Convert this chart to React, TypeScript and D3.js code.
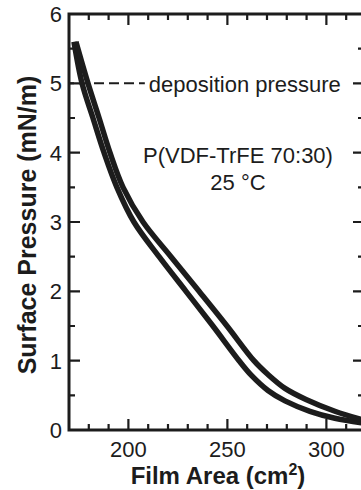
import * as d3 from "d3";

// isotherm traces: [film area (cm²), surface pressure (mN/m)]
const compressionTrace: [number, number][] = [
  [172.5, 5.6], [176.6, 5.0], [182.1, 4.5], [187.7, 4.0], [194.2, 3.5],
  [202.8, 3.0], [215.5, 2.5], [229.1, 2.0], [242.7, 1.5], [255.9, 1.0],
  [262.4, 0.78], [270.5, 0.57], [279.1, 0.42], [291.7, 0.27], [304.3, 0.17],
  [319, 0.1],
];
const expansionTrace: [number, number][] = [
  [173.5, 5.6], [179.6, 5.0], [185.2, 4.5], [190.7, 4.0], [197.3, 3.5],
  [207.4, 3.0], [221.5, 2.5], [235.7, 2.0], [249.8, 1.5], [263.4, 1.0],
  [270.5, 0.8], [279.1, 0.6], [289.7, 0.44], [304.3, 0.27], [319, 0.14],
];
const xMajorTicks = [200, 250, 300];
const xMinorTicks = [180, 190, 210, 220, 230, 240, 260, 270, 280, 290, 310];
const yMajorTicks = [0, 1, 2, 3, 4, 5, 6];
const yMinorTicks = [0.5, 1.5, 2.5, 3.5, 4.5, 5.5];
const depositionPressure = 5;
const depositionLineEnd = 208.3;
const sampleLabel = "P(VDF-TrFE 70:30)";
const tempLabel = "25 °C";

export default function App() {
  const width = 361;
  const height = 490;
  const x = d3.scaleLinear([170, 319], [69, 364]);
  const y = d3.scaleLinear([0, 6], [430, 14]);
  const ink = "#1c1c1c";
  const font = "'Liberation Sans', Arial, Helvetica, sans-serif";
  const major = 11;
  const minor = 6;

  const line = d3
    .line<[number, number]>()
    .x((d) => x(d[0]))
    .y((d) => y(d[1]))
    .curve(d3.curveCatmullRom.alpha(0.5));

  const [left, right] = x.range();
  const [bottom, top] = y.range();

  // inward ticks on all four sides, one path
  const tickPath = [
    ...xMajorTicks.map((t) => `M${x(t)},${bottom}v${-major}M${x(t)},${top}v${major}`),
    ...xMinorTicks.map((t) => `M${x(t)},${bottom}v${-minor}M${x(t)},${top}v${minor}`),
    ...yMajorTicks.map((t) => `M${left},${y(t)}h${major}M${right},${y(t)}h${-major}`),
    ...yMinorTicks.map((t) => `M${left},${y(t)}h${minor}M${right},${y(t)}h${-minor}`),
  ].join("");

  return (
    <svg
      width={width}
      height={height}
      viewBox={`0 0 ${width} ${height}`}
      style={{ position: "absolute", left: 0, top: 0, background: "#fff" }}
      fontFamily={font}
    >
      <defs>
        <clipPath id="plot">
          <rect x={left} y={top} width={right - left} height={bottom - top} />
        </clipPath>
      </defs>

      {/* curves */}
      <g clipPath="url(#plot)" fill="none" stroke={ink} strokeWidth={5.5} strokeLinejoin="round">
        <path d={line(compressionTrace) ?? undefined} />
        <path d={line(expansionTrace) ?? undefined} />
      </g>

      {/* deposition pressure marker */}
      <line
        x1={left}
        x2={x(depositionLineEnd)}
        y1={y(depositionPressure)}
        y2={y(depositionPressure)}
        stroke={ink}
        strokeWidth={2}
        strokeDasharray="10 5"
        strokeDashoffset={5}
      />
      <text x={x(depositionLineEnd) + 4} y={y(depositionPressure) + 8.5} fontSize={22} fill={ink}>
        deposition pressure
      </text>
      <text x={238} y={163} fontSize={22} fill={ink} textAnchor="middle">
        {sampleLabel}
      </text>
      <text x={238} y={190} fontSize={22} fill={ink} textAnchor="middle">
        {tempLabel}
      </text>

      {/* frame and ticks */}
      <rect
        x={left}
        y={top}
        width={right - left}
        height={bottom - top}
        fill="none"
        stroke={ink}
        strokeWidth={3}
      />
      <path d={tickPath} fill="none" stroke={ink} strokeWidth={2.2} />

      {/* tick labels */}
      {xMajorTicks.map((t) => (
        <text key={`xl${t}`} x={x(t)} y={457} fontSize={22} textAnchor="middle" fill={ink}>
          {t}
        </text>
      ))}
      {yMajorTicks.map((t) => (
        <text key={`ylab${t}`} x={62} y={y(t) + 8} fontSize={22} textAnchor="end" fill={ink}>
          {t}
        </text>
      ))}

      {/* axis titles */}
      <text x={218} y={484} fontSize={24} fontWeight="bold" textAnchor="middle" fill={ink}>
        Film Area (cm<tspan fontSize={16} dy={-9}>2</tspan>
        <tspan dy={9}>)</tspan>
      </text>
      <text
        x={0}
        y={0}
        transform={`translate(36 ${225}) rotate(-90)`}
        fontSize={25}
        fontWeight="bold"
        textAnchor="middle"
        fill={ink}
      >
        Surface Pressure (mN/m)
      </text>
    </svg>
  );
}
